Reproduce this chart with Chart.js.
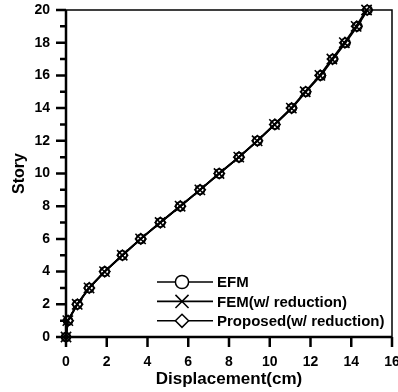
<!DOCTYPE html>
<html>
<head>
<meta charset="utf-8">
<script src="https://cdn.jsdelivr.net/npm/chart.js@4/dist/chart.umd.min.js"></script>
<style>
  html, body { margin: 0; padding: 0; background: #fff; overflow: hidden; }
  #wrap { width: 398px; height: 392px; overflow: hidden; }
  canvas { display: block; }
</style>
</head>
<body>
<div id="wrap"><canvas id="chart" width="410" height="392"></canvas></div>
<script>
"use strict";

// story levels (y) and lateral displacement in cm (x)
var stories = [0, 1, 2, 3, 4, 5, 6, 7, 8, 9, 10, 11, 12, 13, 14, 15, 16, 17, 18, 19, 20];
var efm = [0, 0.10, 0.56, 1.14, 1.90, 2.77, 3.67, 4.63, 5.61, 6.58, 7.52, 8.50, 9.40, 10.26, 11.09, 11.78, 12.51, 13.11, 13.72, 14.30, 14.80];
var femReduced = [0, 0.09, 0.55, 1.13, 1.89, 2.76, 3.66, 4.62, 5.60, 6.57, 7.51, 8.48, 9.38, 10.23, 11.06, 11.74, 12.46, 13.05, 13.66, 14.24, 14.75];
var proposedReduced = [0, 0.10, 0.56, 1.14, 1.90, 2.77, 3.67, 4.63, 5.61, 6.58, 7.52, 8.49, 9.39, 10.25, 11.07, 11.76, 12.48, 13.08, 13.69, 14.27, 14.78];

var seriesNames = ['EFM', 'FEM(w/ reduction)', 'Proposed(w/ reduction)'];
var seriesStyles = ['circle', 'crossRot', 'rectRot'];

var xTicks = [0, 2, 4, 6, 8, 10, 12, 14, 16];

var FONT = '"Liberation Sans", Arial, Helvetica, sans-serif';

function toPoints(xs) {
    return xs.map(function(x, i) { return {x: x, y: stories[i]}; });
}

// crossRot is drawn at radius*cos(45deg), so it needs a bigger radius
function markerRadius(style, base) {
    if (style === 'crossRot') return base * 1.4;
    return base;
}

function makeDataset(label, xs, style) {
    return {
        label: label,
        data: toPoints(xs),
        borderColor: '#000',
        borderWidth: 1.8,
        pointStyle: style,
        pointRadius: style === 'circle' ? 4.5 : markerRadius(style, 5.2),
        pointBorderWidth: 1.6,
        pointBorderColor: '#000',
        pointBackgroundColor: 'rgba(0,0,0,0)',
        showLine: true,
        tension: 0,
        clip: false
    };
}

/**
 * frame: thick left/bottom, thin top/right, outward tick marks
 */
var framePlugin = {
    id: 'frame',
    afterDraw: function(chart) {
        var ctx = chart.ctx;
        var a = chart.chartArea;
        var xs = chart.scales.x;
        var ys = chart.scales.y;
        ctx.save();
        ctx.strokeStyle = '#000';

        ctx.lineWidth = 1.5;
        ctx.beginPath();
        ctx.moveTo(a.left, a.top);
        ctx.lineTo(a.right, a.top);
        ctx.lineTo(a.right, a.bottom);
        ctx.stroke();

        ctx.lineWidth = 2.5;
        ctx.beginPath();
        ctx.moveTo(a.left, a.top);
        ctx.lineTo(a.left, a.bottom);
        ctx.lineTo(a.right, a.bottom);
        ctx.stroke();

        ctx.lineWidth = 2.5;
        ctx.beginPath();
        for (var v = ys.min; v <= ys.max; v++) {
            var py = ys.getPixelForValue(v);
            var len = (v % 2 === 0) ? 10 : 6;
            ctx.moveTo(a.left, py);
            ctx.lineTo(a.left - len, py);
        }
        for (var i = 0; i < xTicks.length; i++) {
            var px = xs.getPixelForValue(xTicks[i]);
            ctx.moveTo(px, a.bottom);
            ctx.lineTo(px, a.bottom + 10);
        }
        ctx.stroke();
        ctx.restore();
    }
};

/**
 * legend drawn inside the plot, lower right
 */
var insideLegend = {
    id: 'insideLegend',
    afterDraw: function(chart) {
        var ctx = chart.ctx;
        var a = chart.chartArea;
        var x0 = a.left + 91;
        var x1 = a.left + 147;
        var mx = a.left + 116;
        var tx = a.left + 151;
        var y = a.bottom - 55;
        var step = 19.4;
        ctx.save();
        ctx.font = 'bold 15px ' + FONT;
        ctx.textBaseline = 'middle';
        chart.data.datasets.forEach(function(ds, i) {
            var ly = y + i * step;
            ctx.strokeStyle = '#000';
            ctx.lineWidth = 1.6;
            ctx.beginPath();
            ctx.moveTo(x0, ly);
            ctx.lineTo(x1, ly);
            ctx.stroke();
            ctx.fillStyle = '#fff';
            ctx.lineWidth = 1.5;
            Chart.helpers.drawPoint(ctx, {
                pointStyle: ds.pointStyle,
                radius: markerRadius(ds.pointStyle, 6.6),
                rotation: 0,
                borderWidth: 1.5
            }, mx, ly);
            ctx.fillStyle = '#000';
            ctx.fillText(ds.label, tx, ly + 1);
        });
        ctx.restore();
    }
};

new Chart(document.getElementById('chart'), {
    type: 'scatter',
    data: {
        datasets: [
            makeDataset(seriesNames[0], efm, seriesStyles[0]),
            makeDataset(seriesNames[1], femReduced, seriesStyles[1]),
            makeDataset(seriesNames[2], proposedReduced, seriesStyles[2])
        ]
    },
    options: {
        responsive: false,
        animation: false,
        events: [],
        layout: { padding: { top: 10, right: 18, left: 0, bottom: 0 } },
        plugins: {
            legend: { display: false },
            tooltip: { enabled: false }
        },
        scales: {
            x: {
                type: 'linear',
                min: 0,
                max: 16,
                afterFit: function(scale) {
                    scale.height = 55;
                    scale.paddingLeft = 0;
                    scale.paddingRight = 0;
                },
                afterBuildTicks: function(scale) {
                    scale.ticks = xTicks.map(function(v) { return {value: v}; });
                },
                grid: { display: false, drawTicks: false },
                border: { display: false },
                ticks: {
                    padding: 17,
                    color: '#000',
                    font: { family: FONT, size: 14, weight: 'bold' },
                    maxRotation: 0
                },
                title: {
                    display: true,
                    text: 'Displacement(cm)',
                    color: '#000',
                    font: { family: FONT, size: 17, weight: 'bold' },
                    padding: { top: 0, bottom: 2 }
                }
            },
            y: {
                type: 'linear',
                min: 0,
                max: 20,
                afterFit: function(scale) {
                    scale.width = 66;
                    scale.paddingTop = 0;
                    scale.paddingBottom = 0;
                },
                grid: { display: false, drawTicks: false },
                border: { display: false },
                ticks: {
                    stepSize: 2,
                    padding: 16,
                    color: '#000',
                    font: { family: FONT, size: 14, weight: 'bold' }
                },
                title: {
                    display: true,
                    text: 'Story',
                    color: '#000',
                    font: { family: FONT, size: 16, weight: 'bold' },
                    padding: { top: 10, bottom: 0 }
                }
            }
        }
    },
    plugins: [framePlugin, insideLegend]
});
</script>
</body>
</html>
